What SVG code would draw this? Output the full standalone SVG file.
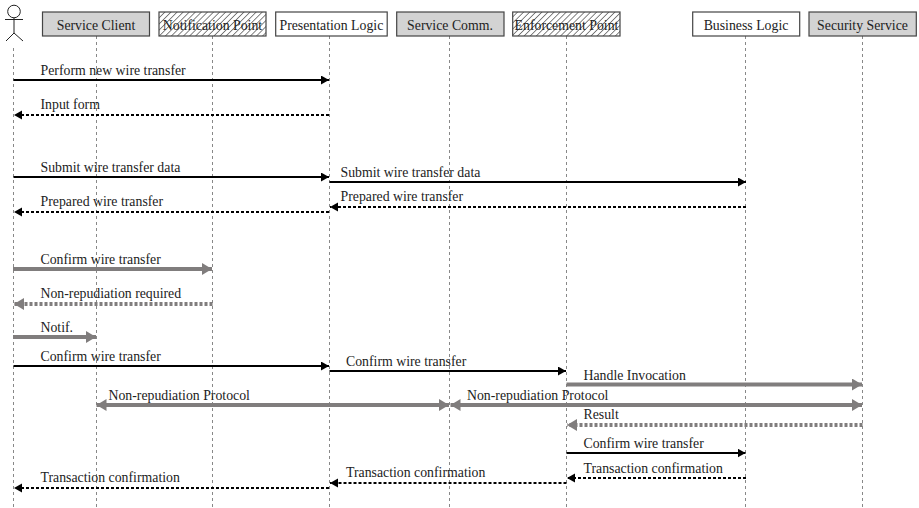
<svg xmlns="http://www.w3.org/2000/svg" width="919" height="508" viewBox="0 0 919 508">
<style>
text{font-family:"Liberation Serif","Times New Roman",serif;font-size:13.8px;fill:#222}
.n{text-anchor:middle}
.box{stroke:#444;stroke-width:1.2}
.g{fill:#d3d3d3}.w{fill:#fff}.h{fill:url(#hatch)}
.life{stroke:#888;stroke-width:1;stroke-dasharray:3 3;fill:none}
.k{stroke:#000;stroke-width:2;fill:none}
.kd{stroke:#000;stroke-width:2;stroke-dasharray:3 2;fill:none}
.y{stroke:#807d7d;stroke-width:4;fill:none}
.yd{stroke:#807d7d;stroke-width:4;stroke-dasharray:3 2;fill:none}
.actor{stroke:#222;stroke-width:1;fill:none}
</style>
<defs>
<pattern id="hatch" width="4.3" height="4.3" patternUnits="userSpaceOnUse" patternTransform="rotate(45)"><rect width="4.3" height="4.3" fill="#fff"/><line x1="0" y1="0" x2="0" y2="4.3" stroke="#333" stroke-width="1.2"/></pattern>
<marker id="ak" markerUnits="userSpaceOnUse" markerWidth="9" markerHeight="10" refX="8" refY="4.5" orient="auto-start-reverse"><path d="M0 0L8 4.5L0 9Z" fill="#000"/></marker>
<marker id="ay" markerUnits="userSpaceOnUse" markerWidth="11" markerHeight="13" refX="10" refY="6" orient="auto-start-reverse"><path d="M0 0L10 6L0 12Z" fill="#807d7d"/></marker>
</defs>
<g id="lifelines">
<line class="life" x1="13.5" y1="48" x2="13.5" y2="508"/>
<line class="life" x1="96.5" y1="36" x2="96.5" y2="508"/>
<line class="life" x1="212.5" y1="36" x2="212.5" y2="508"/>
<line class="life" x1="329.5" y1="36" x2="329.5" y2="508"/>
<line class="life" x1="449.5" y1="36" x2="449.5" y2="508"/>
<line class="life" x1="566.5" y1="36" x2="566.5" y2="508"/>
<line class="life" x1="745.5" y1="36" x2="745.5" y2="508"/>
<line class="life" x1="862.5" y1="36" x2="862.5" y2="508"/>
</g>
<g id="actor"><circle class="actor" cx="14" cy="11.5" r="6.3"/><path class="actor" d="M14 18V33M5 19.500H23M14 33L6 41M14 33L23 41"/></g>
<g id="service-client"><rect class="box g" x="42.500" y="12" width="107" height="24"/><text class="n" x="96" y="30">Service Client</text></g>
<g id="notification-point"><rect class="box h" x="159" y="12" width="107" height="24"/><text class="n" x="212.500" y="30">Notification Point</text></g>
<g id="presentation-logic"><rect class="box w" x="275.700" y="12" width="111.500" height="24"/><text class="n" x="331.400" y="30">Presentation Logic</text></g>
<g id="service-comm"><rect class="box g" x="396.700" y="12" width="107.300" height="24"/><text class="n" x="450" y="30">Service Comm.</text></g>
<g id="enforcement-point"><rect class="box h" x="512.700" y="12" width="107.300" height="24"/><text class="n" x="566.500" y="30">Enforcement Point</text></g>
<g id="business-logic"><rect class="box w" x="692.700" y="12" width="107" height="24"/><text class="n" x="746" y="30">Business Logic</text></g>
<g id="security-service"><rect class="box g" x="809" y="12" width="107.300" height="24"/><text class="n" x="862.500" y="30">Security Service</text></g>
<g id="connectors">
<line class="k" x1="13.500" y1="80" x2="329" y2="80" marker-end="url(#ak)"/>
<line class="kd" x1="329" y1="115" x2="14" y2="115" marker-end="url(#ak)"/>
<line class="k" x1="13.500" y1="177" x2="329" y2="177" marker-end="url(#ak)"/>
<line class="k" x1="329.500" y1="182" x2="746" y2="182" marker-end="url(#ak)"/>
<line class="kd" x1="746" y1="207" x2="330" y2="207" marker-end="url(#ak)"/>
<line class="kd" x1="329" y1="212" x2="14" y2="212" marker-end="url(#ak)"/>
<line class="y" x1="13" y1="269" x2="212" y2="269" marker-end="url(#ay)"/>
<line class="yd" x1="212.500" y1="304" x2="14" y2="304" marker-end="url(#ay)"/>
<line class="y" x1="13" y1="337" x2="96" y2="337" marker-end="url(#ay)"/>
<line class="k" x1="13.500" y1="366" x2="329" y2="366" marker-end="url(#ak)"/>
<line class="k" x1="329.500" y1="371" x2="566" y2="371" marker-end="url(#ak)"/>
<line class="y" x1="566.500" y1="384.500" x2="862" y2="384.500" marker-end="url(#ay)"/>
<line class="y" x1="96.500" y1="405" x2="449" y2="405" marker-start="url(#ay)" marker-end="url(#ay)"/>
<line class="y" x1="450.500" y1="405" x2="862" y2="405" marker-start="url(#ay)" marker-end="url(#ay)"/>
<line class="yd" x1="862.500" y1="425" x2="567" y2="425" marker-end="url(#ay)"/>
<line class="k" x1="566.500" y1="453" x2="745.500" y2="453" marker-end="url(#ak)"/>
<line class="kd" x1="746" y1="478" x2="567" y2="478" marker-end="url(#ak)"/>
<line class="kd" x1="566.500" y1="483" x2="330" y2="483" marker-end="url(#ak)"/>
<line class="kd" x1="329" y1="488" x2="14" y2="488" marker-end="url(#ak)"/>
</g>
<g id="labels">
<text x="40.500" y="74.500">Perform new wire transfer</text>
<text x="40.500" y="108.500">Input form</text>
<text x="40.500" y="171.500">Submit wire transfer data</text>
<text x="340.500" y="176.500">Submit wire transfer data</text>
<text x="340.500" y="200.500">Prepared wire transfer</text>
<text x="40.500" y="206">Prepared wire transfer</text>
<text x="40.500" y="263.500">Confirm wire transfer</text>
<text x="40.500" y="297.500">Non-repudiation required</text>
<text x="40.500" y="331.500">Notif.</text>
<text x="40.500" y="360.500">Confirm wire transfer</text>
<text x="346" y="365.500">Confirm wire transfer</text>
<text x="583.500" y="379.500">Handle Invocation</text>
<text x="108.500" y="399.500">Non-repudiation Protocol</text>
<text x="467" y="399.500">Non-repudiation Protocol</text>
<text x="583.500" y="418.500">Result</text>
<text x="583.500" y="447.500">Confirm wire transfer</text>
<text x="583.500" y="472.500">Transaction confirmation</text>
<text x="346" y="476.500">Transaction confirmation</text>
<text x="40.500" y="481.500">Transaction confirmation</text>
</g>
</svg>
